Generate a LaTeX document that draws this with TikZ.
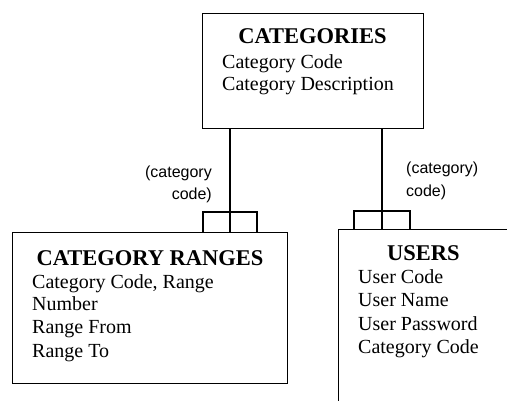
\documentclass[tikz,border=0pt]{standalone}
\usepackage{fontspec}
\setmainfont{Liberation Serif}
\newfontfamily\labelfont{Liberation Sans}
\begin{document}
\begin{tikzpicture}[x=1pt,y=-1pt,
  entity/.style={draw, line width=1.4pt, rectangle, inner sep=0pt, anchor=north west},
  etitle/.style={font=\fontsize{22.5}{24}\selectfont\bfseries, inner sep=0pt, anchor=base},
  field/.style={font=\fontsize{20}{22}\selectfont, inner sep=0pt, anchor=base west},
  rel/.style={line width=1.3pt},
  rolelabel/.style={font=\labelfont\fontsize{16}{18}\selectfont, inner sep=0pt}]
\clip (0,0) rectangle (507,400);

% entity boxes
\node[entity, minimum width=221pt, minimum height=115pt] (cat) at (202,13) {};
\node[entity, minimum width=275pt, minimum height=151pt] (cr) at (12,232) {};
\node[entity, minimum width=220pt, minimum height=220pt] (usr) at (338,229) {};

% CATEGORIES
\node[etitle] (catT) at (312.5,43) {CATEGORIES};
\node[field] (catA) at (222,68) {Category Code};
\node[field] (catB) at (222,90) {Category Description};

% CATEGORY RANGES
\node[etitle] (crT) at (150,265) {CATEGORY RANGES};
\node[field] (crA) at (32,288) {Category Code, Range};
\node[field] (crB) at (32,310) {Number};
\node[field] (crC) at (32,333) {Range From};
\node[field] (crD) at (32,357) {Range To};

% USERS
\node[etitle] (usrT) at (423.5,260) {USERS};
\node[field] (usrA) at (358,283) {User Code};
\node[field] (usrB) at (358,306) {User Name};
\node[field] (usrC) at (358,330) {User Password};
\node[field] (usrD) at (358,353) {Category Code};

% relationship CATEGORIES -- CATEGORY RANGES
\coordinate (lfork) at (230,212);
\coordinate (lfl) at (203,212);
\coordinate (lfr) at (257,212);
\draw[rel] (lfork |- cat.south) -- (lfork |- cr.north);
\draw[rel] (lfl |- cr.north) -- (lfl) -- (lfr) -- (lfr |- cr.north);

% relationship CATEGORIES -- USERS
\coordinate (rfork) at (382,211);
\coordinate (rfl) at (354,211);
\coordinate (rfr) at (410,211);
\draw[rel] (rfork |- cat.south) -- (rfork |- usr.north);
\draw[rel] (rfl |- usr.north) -- (rfl) -- (rfr) -- (rfr |- usr.north);

% role labels
\node[rolelabel, anchor=base east] (lrA) at (212,177) {(category};
\node[rolelabel, anchor=base east] (lrB) at (212,199) {code)};
\node[rolelabel, anchor=base west] (rrA) at (406,173) {(category)};
\node[rolelabel, anchor=base west] (rrB) at (406,196) {code)};
\end{tikzpicture}
\end{document}
